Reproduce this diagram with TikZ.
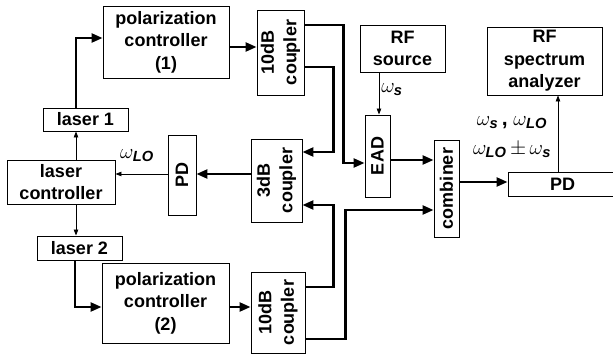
\documentclass[tikz,border=0pt]{standalone}
\usepackage{fontspec}
\setmainfont{Liberation Sans}
\usepackage{amsmath}
\usetikzlibrary{arrows.meta,calc}
\newcommand\lsub[1]{\text{\bfseries\itshape #1}}
\begin{document}
\begin{tikzpicture}[x=1pt,y=-1pt,
 box/.style={draw,line width=0.9pt,inner sep=0pt,align=center,font=\fontsize{18}{22.5}\selectfont\bfseries},
 thk/.style={line width=2.4pt,-{Triangle[length=11pt,width=9pt]}},
 thn/.style={line width=0.8pt,-{Triangle[length=6pt,width=4.5pt]}},
 lbl/.style={font=\fontsize{21}{24}\selectfont,inner sep=0pt}]
\useasboundingbox (0,0) rectangle (613,358);
\clip (0,0) rectangle (613,358);
% boxes
\node[box,minimum width=126pt,minimum height=72pt] (pc1) at (166,42) {polarization\\controller\\(1)};
\node[box,minimum width=47pt,minimum height=85pt] (c10a) at (280.5,52.5) {\rotatebox{90}{\begin{tabular}{@{}c@{}}10dB\\coupler\end{tabular}}};
\node[box,minimum width=85pt,minimum height=23pt] (laser1) at (85.5,119.5) {laser 1};
\node[box,minimum width=108pt,minimum height=44pt] (lc) at (61,182) {laser\\controller};
\node[box,minimum width=28pt,minimum height=80pt] (pdm) at (182,175) {\rotatebox{90}{PD}};
\node[box,minimum width=51pt,minimum height=83pt] (c3) at (276.5,180.5) {\rotatebox{90}{\begin{tabular}{@{}c@{}}3dB\\coupler\end{tabular}}};
\node[box,minimum width=85pt,minimum height=24pt] (laser2) at (79.5,248) {laser 2};
\node[box,minimum width=127pt,minimum height=80pt] (pc2) at (165.5,303) {polarization\\controller\\(2)};
\node[box,minimum width=54pt,minimum height=81pt] (c10b) at (278,312.5) {\rotatebox{90}{\begin{tabular}{@{}c@{}}10dB\\coupler\end{tabular}}};
\node[box,minimum width=85pt,minimum height=47pt] (rfs) at (402.5,48.5) {RF\\source};
\node[box,minimum width=25pt,minimum height=82pt] (ead) at (377.5,156) {\rotatebox{90}{EAD}};
\node[box,minimum width=25pt,minimum height=97pt] (comb) at (446.5,188.5) {\rotatebox{90}{combiner}};
\node[box,minimum width=110pt,minimum height=24pt,text width=100pt,align=left] (pdr) at (563,184) {\hspace*{37pt}PD};
\node[box,minimum width=115pt,minimum height=68pt] (rfsa) at (544.5,61) {RF\\spectrum\\analyzer};
% connectors
\draw[thk] ($(laser1.north)+(-9.5,0)$) |- ($(pc1.west)+(0,-4)$);
\draw[thk] ($(pc1.east)+(0,5)$) coordinate (p1) -- (p1 -| c10a.west);
\draw[thn] ($(lc.north)+(15,0)$) coordinate (q1) -- (q1 |- laser1.south);
\draw[thn] ($(pdm.west)+(0,-1)$) coordinate (q2) -- (q2 -| lc.east);
\draw[thk] (q2 -| c3.west) -- (q2 -| pdm.east);
\draw[thn] ($(lc.south)+(15,0)$) coordinate (q3) -- (q3 |- laser2.north);
\draw[thk] ($(laser2.south)+(-4.5,0)$) |- ($(pc2.west)+(0,4)$);
\draw[thk] ($(pc2.east)+(0,4)$) coordinate (p2) -- (p2 -| c10b.west);
\draw[thk] ($(c10a.east)+(0,-27.5)$) -- ++(39,0) |- ($(ead.west)+(0,7)$);
\draw[thk] ($(c10a.east)+(0,14.5)$) -- ++(29,0) |- ($(c3.east)+(0,-28.5)$);
\draw[thk] ($(c10b.east)+(0,-25.5)$) -- ++(28,0) |- ($(c3.east)+(0,24.5)$);
\draw[thk] ($(c10b.east)+(0,26.5)$) -- ++(40,0) |- ($(comb.west)+(0,21.5)$);
\draw[thk] ($(ead.east)+(0,4)$) coordinate (p3) -- (p3 -| comb.west);
\draw[thn] ($(ead.north)+(1.5,0)$) coordinate (q4) ++(0,0) (q4 |- rfs.south) -- (q4);
\draw[thk] ($(comb.east)+(0,-6.5)$) coordinate (p4) -- (p4 -| pdr.west);
\draw[thn] ($(rfsa.south)+(13.5,0)$) coordinate (q5) ++(0,0) (q5 |- pdr.north) -- (q5);
% labels
\node[lbl] (wlo) at (137,156) {$\omega_{\lsub{LO}}$};
\node[lbl] (ws) at (392,90) {$\omega_{\lsub{s}}$};
\node[lbl] (mix1) at (512,123) {$\omega_{\lsub{s}}$\,\textbf{,} $\omega_{\lsub{LO}}$};
\node[lbl] (mix2) at (512,150) {$\omega_{\lsub{LO}}\,{\pm}\,\omega_{\lsub{s}}$};
\end{tikzpicture}
\end{document}
